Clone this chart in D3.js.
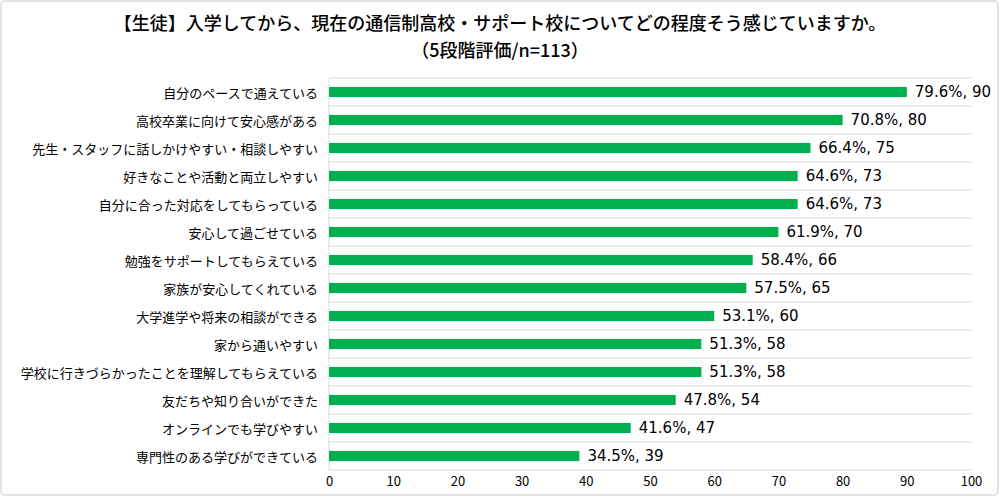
<!DOCTYPE html>
<html><head><meta charset="utf-8">
<script src="https://cdn.jsdelivr.net/npm/d3@7"></script>
<style>body{margin:0;background:#fff}svg{display:block}</style>
</head><body>
<svg id="c" width="1000" height="497"></svg>
<script>
const titleLines = ["【生徒】入学してから、現在の通信制高校・サポート校についてどの程度そう感じていますか。", "（5段階評価/n=113）"];
const categories = ["自分のペースで通えている","高校卒業に向けて安心感がある","先生・スタッフに話しかけやすい・相談しやすい","好きなことや活動と両立しやすい","自分に合った対応をしてもらっている","安心して過ごせている","勉強をサポートしてもらえている","家族が安心してくれている","大学進学や将来の相談ができる","家から通いやすい","学校に行きづらかったことを理解してもらえている","友だちや知り合いができた","オンラインでも学びやすい","専門性のある学びができている"];
const counts = [90,80,75,73,73,70,66,65,60,58,58,54,47,39];
const percents = ["79.6%","70.8%","66.4%","64.6%","64.6%","61.9%","58.4%","57.5%","53.1%","51.3%","51.3%","47.8%","41.6%","34.5%"];
const xTicks = [0,10,20,30,40,50,60,70,80,90,100];

const svg = d3.select("#c");
const jp = "'Noto Sans CJK JP', 'Noto Sans', sans-serif";
svg.append("rect").attr("x",1).attr("y",1).attr("width",997).attr("height",494).attr("rx",4)
  .attr("fill","#fff").attr("stroke","#d9d9d9").attr("stroke-width",1.5);

const x = d3.scaleLinear().domain([0,100]).range([329,971]);
const y = d3.scaleBand().domain(categories).range([78,470]).paddingInner(0.64).paddingOuter(0.32);

svg.selectAll("text.title").data(titleLines).join("text").attr("class","title")
  .attr("x",500).attr("y",(d,i)=>22+i*27).attr("text-anchor","middle").attr("dominant-baseline","central")
  .attr("font-family",jp).attr("font-size",18).attr("font-weight",500).attr("fill","#000").text(d=>d);

// horizontal gridlines between categories
const gy = d3.range(categories.length+1).map(i=>78+i*(392/categories.length));
svg.selectAll("line.grid").data(gy).join("line").attr("class","grid")
  .attr("x1",x(0)).attr("x2",x(100)).attr("y1",d=>d).attr("y2",d=>d)
  .attr("stroke","#d9d9d9").attr("stroke-width",1);
svg.append("line").attr("x1",x(0)).attr("x2",x(0)).attr("y1",78).attr("y2",470).attr("stroke","#d9d9d9");

svg.selectAll("rect.bar").data(categories).join("rect").attr("class","bar")
  .attr("x",x(0)).attr("y",d=>y(d)).attr("width",(d,i)=>x(counts[i])-x(0)).attr("height",y.bandwidth())
  .attr("fill","#00b050");

svg.selectAll("text.val").data(categories).join("text").attr("class","val")
  .attr("x",(d,i)=>x(counts[i])+8).attr("y",d=>y(d)+y.bandwidth()/2).attr("dominant-baseline","central")
  .attr("font-family","'DejaVu Sans', Verdana, sans-serif").attr("font-size",15).attr("fill","#000")
  .text((d,i)=>percents[i]+", "+counts[i]);

svg.selectAll("text.cat").data(categories).join("text").attr("class","cat")
  .attr("x",318).attr("y",d=>y(d)+y.bandwidth()/2).attr("text-anchor","end").attr("dominant-baseline","central")
  .attr("font-family",jp).attr("font-size",13).attr("fill","#000").text(d=>d);

const ax = svg.append("g").attr("transform","translate(0,470)")
  .call(d3.axisBottom(x).tickValues(xTicks).tickSize(0).tickPadding(7));
ax.select(".domain").remove();
ax.selectAll("text").attr("font-family",jp).attr("font-size",13).attr("fill","#000");
</script>
</body></html>
